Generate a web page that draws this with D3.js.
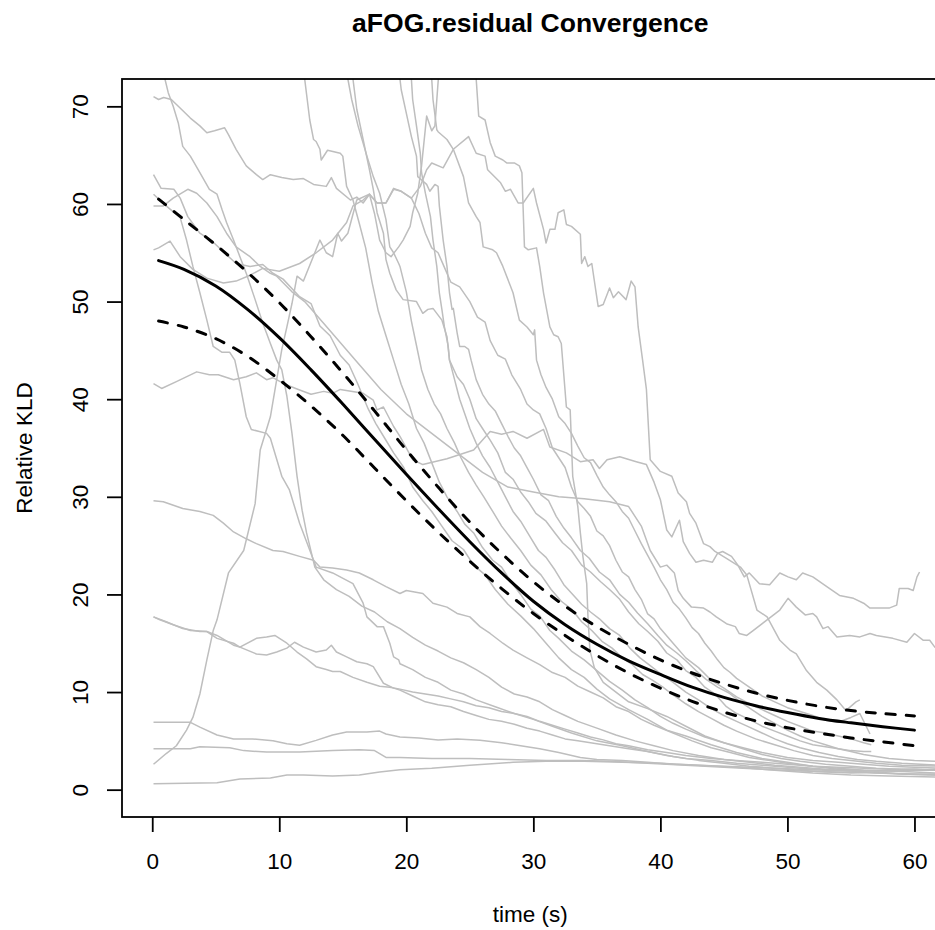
<!DOCTYPE html>
<html>
<head>
<meta charset="utf-8">
<script src="https://d3js.org/d3.v7.min.js"></script>
<style>
  body { margin: 0; background: #fff; }
  text { font-family: "Liberation Sans", Arial, Helvetica, sans-serif; }
</style>
</head>
<body>
<script>
// axis ticks
var timeTicks = [0, 10, 20, 30, 40, 50, 60];
var kldTicks = [0, 10, 20, 30, 40, 50, 60, 70];

// fitted curve and its band
var fitTime  = [0.5, 2.5, 5, 7.5, 10, 12.5, 15, 17.5, 20, 22.5, 25, 27.5, 30, 32.5, 35, 37.5, 40, 42.5, 45, 47.5, 50, 52.5, 55, 57.5, 60];
var fitMean  = [54.2, 53.3, 51.6, 49.2, 46.3, 43.0, 39.5, 35.9, 32.3, 28.8, 25.4, 22.2, 19.3, 16.9, 14.9, 13.2, 11.8, 10.5, 9.45, 8.6, 7.9, 7.3, 6.85, 6.45, 6.1];
var fitUpper = [60.5, 58.4, 55.8, 53.0, 49.9, 46.4, 42.7, 38.8, 34.8, 31.0, 27.4, 24.2, 21.3, 18.8, 16.7, 14.9, 13.3, 11.95, 10.85, 9.9, 9.15, 8.55, 8.1, 7.8, 7.55];
var fitLower = [48.0, 47.4, 46.2, 44.4, 42.0, 39.3, 36.3, 32.95, 29.6, 26.4, 23.4, 20.6, 18.05, 15.8, 13.75, 11.95, 10.4, 9.05, 7.95, 7.05, 6.35, 5.8, 5.3, 4.9, 4.5];

// individual runs, [time, KLD]
var run01 = [[0.1,71.0],[0.5,70.7],[0.9,70.9],[1.5,70.7],[2.05,70.0],[3.0,68.8],[3.75,68.0],[4.3,67.3],[4.9,67.5],[5.7,67.8],[6.0,67.1],[6.6,65.6],[7.4,63.9],[8.2,63.0],[8.7,62.5],[9.3,63.0],[10.2,62.7],[11.1,62.5],[11.9,62.6],[12.7,62.0],[13.7,61.8],[14.1,62.7],[14.5,61.6],[15.6,60.4],[16.1,60.7],[16.6,60.1],[17.1,61.0],[17.7,60.1],[18.4,60.1],[19.0,61.6],[19.6,61.3],[20.4,60.6],[21.1,61.8],[21.6,63.5],[22.0,64.2],[22.9,63.7],[23.7,65.6],[24.9,66.9],[25.5,65.2],[26.2,64.9],[26.4,63.5],[27.4,62.2],[27.8,61.3],[28.2,61.5],[28.8,60.1],[29.2,60.1],[30.0,61.6],[30.25,60.1],[30.8,57.4],[31.0,56.0],[31.3,57.4],[31.7,57.4],[31.95,59.1],[32.4,59.4],[32.6,57.9],[33.0,57.7],[33.7,56.9],[33.8,53.9],[34.05,54.6],[34.3,53.6],[34.6,53.9],[35.1,49.5],[35.5,49.7],[36.0,51.4],[36.3,50.4],[36.7,51.0],[37.3,50.2],[37.7,52.1],[38.0,51.5],[38.25,47.4],[38.6,44.0],[38.9,41.0],[39.2,33.8],[40.0,32.6],[40.9,32.1],[41.4,30.4],[42.05,29.5],[42.3,28.3],[42.8,27.3],[43.4,25.2],[43.9,24.9],[44.3,24.4],[45.2,23.7],[46.3,22.8],[46.8,22.0],[47.6,18.4],[48.4,17.7],[49.4,15.3],[50.2,14.3],[50.7,13.9],[51.5,12.2],[52.3,11.0],[53.1,10.2],[53.9,9.2],[54.6,8.1],[55.4,9.0],[55.7,9.2]];
var run02 = [[0.1,63.0],[0.7,61.6],[1.7,61.5],[2.2,60.6],[2.8,58.7],[3.75,57.0],[4.7,56.2],[5.6,55.1],[6.6,53.9],[7.7,53.6],[8.7,53.8],[9.5,52.9],[10.3,52.3],[11.6,50.5],[12.5,49.8],[13.2,47.5],[14.0,46.5],[14.8,44.5],[15.5,43.5],[16.2,41.5],[17.0,39.0],[17.6,37.5],[18.3,36.0],[19.0,34.5],[19.8,33.0],[20.5,31.0],[21.3,29.6],[22.0,28.5],[22.8,27.0],[23.6,25.5],[24.5,24.6],[25.3,23.0],[26.2,22.0],[27.0,20.5],[28.0,19.0],[29.0,17.8],[30.0,16.5],[31.0,15.0],[32.0,13.5],[33.0,12.3],[34.0,11.5],[35.0,10.3],[36.0,9.3],[37.5,8.2],[39.0,7.2],[40.5,6.1],[42.0,5.5],[44.0,4.6],[46.0,3.8],[48.0,3.2],[50.0,2.8],[52.0,2.4],[54.0,2.1],[56.0,2.0],[58.0,1.9],[60.0,2.0],[62.0,2.1]];
var run03 = [[0.1,61.0],[1.1,59.8],[2.2,58.6],[2.7,56.3],[3.2,53.6],[3.75,50.9],[4.3,48.1],[4.8,45.4],[5.5,44.8],[6.1,44.8],[6.5,44.0],[6.9,41.6],[7.4,38.2],[7.8,36.9],[9.0,36.5],[9.3,36.0],[10.2,32.1],[10.8,30.7],[11.6,27.3],[12.9,22.8],[14.2,22.2],[15.8,21.1],[16.6,19.1],[16.9,17.7],[17.7,16.7],[18.2,16.7],[18.7,15.0],[19.0,13.6],[19.4,13.3],[19.5,12.9],[20.5,12.3],[21.5,11.5],[22.5,11.0],[23.5,10.2],[24.5,9.8],[25.5,9.2],[27.0,8.5],[28.5,7.8],[30.0,7.2],[31.5,6.5],[33.0,5.8],[35.0,5.0],[37.0,4.5],[39.0,3.9],[41.0,3.4],[43.0,3.0],[45.0,2.7],[47.0,2.4],[49.0,2.2],[51.0,2.0],[53.0,1.8],[55.0,1.7],[57.0,1.8],[59.0,1.6],[62.0,1.5]];
var run04 = [[0.1,55.3],[0.5,55.5],[1.4,56.2],[2.2,54.6],[3.2,53.3],[4.3,52.4],[5.6,51.9],[6.6,52.1],[7.7,52.7],[8.7,53.4],[10.0,53.1],[11.6,53.9],[12.9,55.0],[14.2,56.3],[15.3,58.1],[15.8,59.8],[16.6,60.4],[17.1,61.0],[17.5,59.0],[17.9,56.3],[18.4,55.0],[18.8,54.6],[19.4,55.6],[19.75,56.3],[20.3,57.7],[20.5,59.1],[20.9,61.1],[21.2,63.9],[21.6,69.0],[22.0,67.5],[22.25,68.0],[22.7,76],[23.5,82],[24.5,82],[25.4,76],[25.5,72.8],[25.7,69.0],[26.2,68.6],[26.6,66.3],[27.0,64.9],[27.6,64.5],[27.9,64.2],[28.5,64.2],[28.9,63.9],[29.1,63.2],[29.3,55.6],[29.6,55.3],[30.25,55.5],[30.5,53.6],[30.8,50.9],[31.3,47.4],[31.6,46.6],[31.95,46.4],[32.2,45.7],[32.6,39.2],[32.9,38.9],[33.1,32.1],[33.5,29.0],[33.7,26.3],[33.9,23.9],[34.2,21.1],[34.3,17.7],[34.45,14.3],[34.8,12.5],[35.5,11.0],[36.5,10.0],[37.5,9.0],[39.0,8.3],[40.5,7.5],[42.0,6.5],[43.5,5.5],[45.0,4.8],[46.5,4.3],[48.0,3.8],[50.0,3.3],[52.0,3.0],[54.0,2.8],[56.0,2.6],[58.0,2.4],[60.0,2.3],[62.0,2.2]];
var run05 = [[0.1,2.6],[1.1,3.7],[1.9,4.5],[2.7,6.1],[3.2,7.4],[3.75,9.8],[4.3,13.3],[4.8,16.3],[5.1,17.4],[6.0,22.2],[7.2,24.5],[8.1,29.3],[8.5,34.8],[9.3,38.2],[10.2,45.1],[10.6,47.4],[11.0,49.8],[11.4,52.6],[11.9,52.1],[13.2,56.3],[13.7,55.0],[14.2,54.6],[14.6,57.0],[14.9,56.2],[15.4,57.0],[16.1,60.4],[17.1,61.0],[17.7,60.1],[18.4,60.1],[19.0,61.5],[19.6,61.3],[20.4,60.6],[21.0,59.0],[21.5,57.0],[22.0,55.5],[22.5,55.0],[23.0,53.5],[23.5,52.0],[24.2,51.5],[25.0,50.0],[25.6,48.4],[26.2,47.9],[26.6,46.0],[27.2,44.5],[27.8,44.1],[28.3,42.5],[29.0,41.0],[29.5,39.5],[30.0,38.9],[30.5,38.5],[31.0,37.0],[31.5,35.0],[32.0,34.0],[32.5,33.0],[33.0,31.0],[33.5,29.5],[34.0,28.8],[34.5,28.0],[35.0,26.5],[35.5,26.0],[36.0,25.0],[36.5,23.5],[37.0,22.3],[37.5,21.8],[38.0,20.5],[38.5,19.5],[39.0,18.0],[39.5,17.5],[40.0,16.5],[41.0,15.0],[42.0,13.5],[43.0,12.5],[44.0,11.2],[45.0,10.4],[46.0,9.5],[47.0,8.8],[48.0,8.2],[49.0,7.6],[50.0,7.0],[51.0,6.5],[52.0,6.0],[53.0,5.8],[54.0,5.5],[55.0,5.2],[56.0,4.8],[56.6,4.6]];
var run06 = [[0.9,76],[1.0,72.8],[1.26,71.4],[1.65,70.0],[2.05,68.3],[2.4,65.9],[3.0,64.9],[3.75,63.2],[4.5,61.5],[5.1,61.0],[5.5,59.4],[5.85,58.1],[6.4,56.3],[6.9,54.6],[7.4,52.9],[8.1,50.2],[8.7,47.8],[9.3,45.7],[9.8,44.0],[10.2,43.0],[10.6,40.3],[11.0,36.5],[11.4,32.1],[11.8,28.6],[12.15,26.3],[12.8,22.8],[13.5,21.5],[14.5,20.5],[15.5,19.8],[16.5,18.8],[17.5,18.2],[18.5,17.2],[19.5,16.5],[20.5,15.6],[21.5,14.8],[22.5,14.2],[23.5,13.5],[24.5,13.0],[25.5,12.3],[26.5,11.5],[27.5,10.5],[28.5,9.8],[29.5,9.5],[30.5,9.0],[31.5,8.2],[32.5,7.6],[33.5,7.0],[35.0,6.3],[36.5,5.6],[38.0,5.0],[39.5,4.5],[41.0,4.0],[43.0,3.5],[45.0,3.1],[47.0,2.8],[49.0,2.5],[51.0,2.3],[53.0,2.1],[55.0,1.9],[57.0,1.7],[59.0,1.6],[62.0,1.5]];
var run07 = [[0.1,41.6],[0.74,41.1],[1.9,41.8],[3.5,42.8],[4.5,42.5],[5.2,42.5],[6.4,42.0],[7.4,42.3],[8.2,42.7],[9.0,42.0],[9.5,42.2],[10.5,41.5],[11.5,41.0],[12.5,40.5],[13.5,40.8],[14.2,40.6],[14.8,41.0],[16.6,40.6],[17.4,39.9],[17.7,38.9],[18.2,39.2],[19.0,37.2],[19.5,36.2],[20.5,33.8],[21.3,33.3],[23.2,33.9],[25.3,34.8],[26.6,36.7],[27.5,36.4],[28.4,36.7],[29.5,36.0],[30.8,36.9],[31.3,35.1],[32.6,34.5],[33.7,33.6],[34.7,33.8],[35.2,32.9],[35.8,33.8],[36.8,34.1],[38.1,33.6],[38.9,33.3],[39.5,31.5],[40.0,29.7],[40.5,26.6],[40.9,25.9],[41.5,27.6],[41.8,25.4],[42.3,24.2],[42.8,23.3],[43.4,23.5],[44.1,23.3],[44.5,24.2],[44.9,24.4],[45.6,23.9],[46.1,23.0],[46.6,21.8],[47.0,22.2],[47.8,21.1],[48.6,21.0],[49.4,22.2],[50.05,21.8],[50.7,21.5],[51.2,22.2],[52.0,21.8],[53.1,20.8],[54.1,19.9],[55.2,19.6],[56.0,19.1],[56.5,18.6],[57.3,18.6],[58.0,18.6],[58.6,18.9],[58.8,20.6],[59.5,20.6],[59.9,20.4],[60.2,21.8],[60.4,22.3]];
var run08 = [[0.1,29.6],[0.87,29.5],[2.4,28.8],[3.75,28.5],[4.8,28.1],[5.6,27.3],[6.4,26.4],[7.4,25.7],[8.2,25.2],[9.5,24.5],[10.3,24.4],[11.6,23.9],[12.7,23.5],[13.2,22.8],[14.2,22.7],[15.3,22.5],[16.3,22.2],[17.4,21.5],[18.4,20.8],[19.5,20.1],[20.0,20.4],[21.3,20.1],[22.1,19.1],[23.2,18.7],[24.0,18.05],[25.0,17.7],[25.8,16.7],[26.6,16.0],[27.6,15.0],[28.4,14.3],[29.5,13.5],[30.5,12.8],[31.5,12.0],[32.5,11.5],[33.5,10.6],[34.5,10.0],[35.5,9.4],[36.5,8.5],[37.5,8.0],[38.5,7.2],[39.5,6.6],[41.0,5.8],[42.5,5.0],[44.0,4.3],[45.5,3.8],[47.0,3.3],[48.5,3.0],[50.0,2.7],[52.0,2.4],[54.0,2.2],[56.0,2.0],[58.0,1.9],[60.0,1.8],[62.0,1.7]];
var run09 = [[0.1,17.7],[1.1,17.2],[2.4,16.5],[3.75,16.2],[4.3,16.2],[5.1,15.8],[6.4,14.8],[6.9,14.6],[8.2,15.5],[9.0,15.65],[9.65,15.8],[10.6,15.0],[11.4,14.1],[12.15,13.4],[12.9,12.6],[13.7,12.3],[14.2,12.1],[14.8,12.1],[15.8,11.5],[16.9,11.0],[17.9,10.6],[18.7,10.5],[19.5,10.3],[20.5,10.0],[21.5,9.8],[22.5,9.6],[23.5,9.3],[24.5,9.0],[25.5,8.6],[26.5,8.4],[27.5,8.0],[28.5,7.8],[29.5,7.5],[30.5,7.0],[31.5,6.6],[32.5,6.2],[33.5,5.8],[34.5,5.4],[35.5,5.1],[36.5,4.7],[37.5,4.5],[39.0,4.1],[40.5,3.8],[42.0,3.5],[44.0,3.2],[46.0,3.0],[48.0,2.8],[50.0,2.6],[52.0,2.4],[54.0,2.3],[56.0,2.2],[58.0,2.1],[60.0,2.1],[62.0,2.0]];
var run10 = [[0.1,17.7],[0.6,17.4],[1.65,16.9],[3.0,16.3],[4.3,16.2],[5.1,15.5],[6.4,15.0],[6.9,14.6],[8.2,13.9],[9.0,13.8],[9.8,14.1],[10.6,14.5],[11.2,15.1],[11.9,14.6],[12.9,14.1],[13.7,14.3],[14.1,14.8],[14.5,14.1],[15.3,13.6],[16.1,13.1],[16.9,12.9],[17.4,12.6],[18.2,10.9],[19.0,10.4],[19.5,10.2],[20.5,9.6],[21.5,9.0],[22.5,8.7],[23.5,8.5],[24.5,8.0],[25.5,7.6],[26.5,7.2],[27.5,7.0],[28.5,6.7],[29.5,6.3],[30.5,6.0],[31.5,5.6],[32.5,5.2],[33.5,5.0],[34.5,4.8],[36.0,4.5],[37.5,4.2],[39.0,3.9],[40.5,3.5],[42.0,3.2],[44.0,3.0],[46.0,2.7],[48.0,2.5],[50.0,2.3],[52.0,2.1],[54.0,2.0],[56.0,1.9],[58.0,2.0],[60.0,2.1],[62.0,2.0]];
var run11 = [[0.1,6.9],[1.65,6.9],[3.0,6.9],[3.75,6.4],[5.1,5.6],[6.4,5.2],[7.9,5.2],[9.5,5.0],[10.6,4.7],[11.6,4.55],[12.9,5.05],[14.2,5.6],[15.3,5.9],[16.9,5.9],[17.9,6.0],[18.4,5.7],[19.5,5.4],[21.0,5.3],[22.5,5.1],[24.0,5.2],[25.8,5.05],[27.5,4.8],[29.0,4.5],[30.5,4.2],[32.0,3.8],[33.7,3.3],[35.0,3.1],[37.0,3.0],[39.0,2.8],[41.0,2.6],[43.0,2.5],[45.0,2.4],[47.0,2.3],[49.0,2.2],[51.0,2.1],[53.0,2.0],[55.0,1.9],[57.0,1.9],[59.0,2.0],[62.0,2.0]];
var run12 = [[0.1,4.2],[1.65,4.2],[3.0,4.2],[3.75,4.4],[6.1,4.3],[7.2,4.0],[9.0,3.85],[11.6,3.85],[14.2,4.0],[16.3,4.1],[17.5,4.0],[18.4,3.3],[19.5,3.3],[22.0,3.2],[25.0,3.2],[28.0,3.1],[31.0,3.0],[33.7,3.0],[36.0,2.9],[39.0,2.7],[42.0,2.5],[45.0,2.3],[48.0,2.1],[51.0,1.9],[54.0,1.8],[57.0,1.7],[60.0,1.6],[62.0,1.6]];
var run13 = [[0.1,0.6],[5.1,0.7],[6.9,1.1],[9.3,1.2],[10.6,1.5],[11.9,1.5],[14.2,1.4],[16.3,1.5],[17.9,1.8],[19.5,2.05],[22.0,2.2],[25.0,2.5],[28.4,2.8],[31.0,2.9],[34.0,2.9],[37.0,2.8],[40.0,2.7],[43.0,2.5],[46.0,2.3],[49.0,2.0],[52.0,1.7],[55.0,1.5],[58.0,1.4],[62.0,1.3]];
var run14 = [[11.9,76],[12.0,72.8],[12.4,68.6],[12.7,66.6],[12.9,66.4],[13.2,65.6],[13.3,64.5],[13.8,65.5],[14.8,65.2],[15.0,64.9],[15.3,61.8],[15.8,60.4],[16.3,58.0],[16.8,55.5],[17.3,52.0],[17.8,49.0],[18.4,46.5],[19.0,44.0],[19.6,41.5],[20.2,39.5],[20.8,37.0],[21.4,35.5],[22.0,33.5],[22.6,31.5],[23.2,30.0],[24.0,28.5],[24.6,27.2],[25.3,26.3],[26.0,24.8],[26.8,23.5],[27.5,22.8],[28.3,21.2],[29.0,20.0],[29.8,18.5],[30.5,17.8],[31.3,16.3],[32.0,15.5],[33.0,14.2],[34.0,13.3],[35.0,12.2],[36.0,11.1],[37.0,10.2],[38.0,9.2],[39.0,8.4],[40.0,7.5],[41.0,6.8],[42.0,6.2],[43.5,5.4],[45.0,4.8],[46.5,4.2],[48.0,3.6],[49.5,3.2],[51.0,2.9],[53.0,2.6],[55.0,2.4],[57.0,2.2],[59.0,2.1],[62.0,2.0]];
var run15 = [[15.7,76],[15.8,72.8],[16.1,69.7],[16.6,66.6],[17.1,63.5],[17.4,61.5],[17.7,59.1],[18.2,57.0],[18.4,54.3],[18.7,52.9],[19.2,51.2],[19.75,50.2],[20.8,50.0],[21.3,48.8],[21.7,49.2],[22.1,49.3],[22.8,48.1],[23.2,46.4],[23.4,44.0],[24.0,42.3],[24.5,41.5],[25.0,40.0],[25.5,38.0],[26.0,37.0],[26.6,35.8],[27.2,34.5],[27.8,32.5],[28.4,31.8],[29.0,30.5],[29.6,29.5],[30.2,28.3],[31.0,27.5],[31.7,26.3],[32.3,25.3],[33.0,24.5],[33.8,23.0],[34.5,22.3],[35.3,21.3],[36.0,20.5],[36.8,19.5],[37.5,18.2],[38.3,17.0],[39.0,16.2],[39.8,15.2],[40.5,14.0],[41.3,13.3],[42.0,12.2],[42.8,11.5],[43.5,10.5],[44.3,9.8],[45.2,8.5],[46.0,7.8],[47.0,7.2],[48.0,6.5],[49.0,6.0],[50.0,5.5],[51.0,5.0],[52.0,4.6],[53.0,4.4],[54.0,4.2],[55.0,4.0],[56.0,3.9],[56.6,3.9]];
var run16 = [[15.3,76],[15.4,72.8],[15.7,70.7],[16.2,68.0],[16.9,64.9],[17.4,62.8],[17.9,61.1],[18.4,58.4],[18.7,55.6],[19.0,55.0],[19.4,53.9],[19.5,53.6],[20.0,51.0],[20.4,48.0],[20.8,45.5],[21.2,43.0],[21.7,41.0],[22.2,39.5],[22.7,38.5],[23.2,37.0],[23.8,35.5],[24.3,34.0],[24.9,32.5],[25.5,31.2],[26.1,30.0],[26.8,28.5],[27.5,27.0],[28.2,25.8],[29.0,24.5],[29.8,23.0],[30.6,22.0],[31.4,20.5],[32.2,19.3],[33.0,18.5],[33.8,17.2],[34.6,16.3],[35.4,15.2],[36.2,14.5],[37.0,13.5],[37.8,12.8],[38.6,11.8],[39.4,11.2],[40.2,10.5],[41.0,9.7],[42.0,8.8],[43.0,8.0],[44.0,7.3],[45.0,6.6],[46.0,6.0],[47.5,5.2],[49.0,4.6],[50.5,4.0],[52.0,3.5],[53.5,3.2],[55.0,3.0],[57.0,2.7],[59.0,2.5],[62.0,2.4]];
var run17 = [[19.4,76],[19.5,72.8],[19.6,71.7],[20.0,69.3],[20.4,66.9],[20.8,64.9],[20.9,62.8],[21.6,62.0],[21.85,61.3],[22.25,62.0],[22.5,61.8],[22.6,59.8],[22.9,56.3],[23.2,53.6],[23.4,50.9],[23.6,49.2],[23.7,49.3],[24.0,46.8],[24.2,45.4],[24.6,45.4],[24.9,45.1],[25.1,44.0],[25.5,42.0],[26.0,40.5],[26.5,39.5],[27.0,38.8],[27.5,37.5],[28.0,36.2],[28.5,35.0],[29.0,34.2],[29.5,33.0],[30.0,31.8],[30.6,30.2],[31.2,29.6],[31.8,28.0],[32.4,26.8],[33.0,25.8],[33.7,24.5],[34.4,23.7],[35.2,22.3],[36.0,21.5],[36.8,20.0],[37.5,19.2],[38.2,18.1],[39.0,17.0],[39.8,15.8],[40.5,14.8],[41.3,14.0],[42.0,13.2],[42.8,12.2],[43.6,11.3],[44.5,10.5],[45.4,9.9],[46.3,9.0],[47.2,8.2],[48.0,7.5],[49.0,6.8],[50.0,6.1],[51.0,5.5],[52.0,5.0],[53.0,4.6],[54.0,4.2],[55.0,3.9],[56.0,3.6],[58.0,3.2],[60.0,3.0],[62.0,2.9]];
var run18 = [[20.3,76],[20.4,72.8],[20.5,70.7],[20.8,68.0],[21.1,65.2],[21.2,63.2],[21.5,61.1],[21.9,58.7],[22.1,56.3],[22.4,53.6],[22.6,50.9],[22.8,49.2],[23.0,47.4],[23.3,45.4],[23.4,44.0],[23.8,42.0],[24.2,40.0],[24.6,38.5],[25.0,37.0],[25.5,35.5],[26.0,34.2],[26.6,33.0],[27.2,31.5],[27.8,30.0],[28.4,28.5],[29.0,27.5],[29.7,26.0],[30.4,24.5],[31.0,23.8],[31.7,22.5],[32.4,21.0],[33.1,20.0],[33.8,19.0],[34.5,18.2],[35.2,17.5],[36.0,16.5],[36.8,15.8],[37.6,14.5],[38.4,13.5],[39.2,12.7],[40.0,11.9],[41.0,11.0],[42.0,10.0],[43.0,9.2],[44.0,8.3],[45.0,7.6],[46.0,7.0],[47.0,6.4],[48.0,5.8],[49.0,5.2],[50.0,4.7],[51.0,4.3],[52.5,3.8],[54.0,3.4],[55.5,3.1],[57.0,2.9],[59.0,2.7],[62.0,2.5]];
var run19 = [[21.9,76],[22.0,72.8],[22.1,70.7],[22.4,67.6],[22.5,67.4],[23.2,66.6],[23.7,65.6],[24.5,62.8],[24.9,60.1],[25.5,58.7],[25.8,58.1],[26.05,55.6],[26.8,55.3],[27.1,55.0],[27.6,53.6],[28.4,50.9],[28.9,48.1],[29.5,47.4],[30.0,46.6],[30.1,47.1],[30.25,44.0],[30.6,42.5],[31.0,41.2],[31.5,40.0],[32.0,38.2],[32.5,37.5],[33.0,36.5],[33.5,35.2],[34.0,34.0],[34.5,33.5],[35.0,32.2],[35.5,31.0],[36.0,30.2],[36.5,29.5],[37.0,28.5],[37.5,27.8],[38.0,26.5],[38.5,25.2],[39.0,24.0],[39.5,22.8],[40.0,21.5],[40.5,20.5],[41.0,19.2],[41.5,18.5],[42.0,17.6],[42.5,16.6],[43.0,16.0],[43.5,15.0],[44.0,14.2],[44.5,13.3],[45.0,12.5],[45.5,12.0],[46.0,11.4],[47.0,10.5],[48.0,9.6],[49.0,9.0],[50.0,8.4],[51.0,8.0],[52.0,7.6],[53.0,7.1],[54.0,6.9],[55.0,7.4],[55.7,7.8],[56.5,5.7]];
var run20 = [[0.1,59.8],[0.87,59.8],[1.65,60.6],[2.8,61.5],[3.5,61.1],[4.3,60.1],[5.1,58.7],[5.85,57.0],[6.6,55.6],[7.7,54.6],[8.5,53.6],[9.3,52.9],[9.8,52.6],[11.0,51.0],[12.0,50.0],[14.0,47.0],[16.0,44.0],[18.0,41.0],[20.0,38.5],[22.0,36.5],[24.0,34.5],[26.0,32.5],[28.0,31.0],[30.0,30.5],[32.0,30.0],[34.0,29.8],[36.0,29.5],[37.5,29.0],[38.5,27.0],[39.2,24.5],[40.0,22.8],[40.5,23.0],[41.1,22.2],[41.4,20.4],[41.8,19.6],[42.45,18.7],[43.4,18.6],[43.9,18.2],[44.4,17.7],[45.2,17.0],[45.9,16.7],[46.2,16.0],[46.8,15.8],[47.3,16.3],[48.4,17.4],[49.4,18.4],[50.05,19.6],[50.7,18.7],[51.4,17.9],[52.0,18.05],[52.3,17.7],[52.8,16.5],[53.2,16.7],[53.9,15.65],[54.9,15.8],[55.7,15.65],[56.5,16.0],[57.0,15.8],[58.3,15.5],[59.4,15.1],[60.0,16.0],[60.7,15.3],[61.2,15.3],[61.6,14.6],[62.5,14.0]];

function init(){
    var w = 935;
    var h = 930;
    // plot box, same spot as the R figure
    var left = 122, right = 938.6, top = 79, bottom = 817;

    var xScale = d3.scaleLinear().domain([-2.38, 61.9]).range([left, right]);
    var yScale = d3.scaleLinear().domain([-2.8, 72.8]).range([bottom, top]);

    var svg = d3.select("body")
                .append("svg")
                .attr("width", w)
                .attr("height", h);

    svg.append("clipPath")
        .attr("id", "plotArea")
        .append("rect")
        .attr("x", left)
        .attr("y", top)
        .attr("width", right - left)
        .attr("height", bottom - top);

    var runLine = d3.line()
        .x(function(d){ return xScale(d[0]); })
        .y(function(d){ return yScale(d[1]); });

    var runs = [run01, run02, run03, run04, run05, run06, run07, run08, run09, run10,
                run11, run12, run13, run14, run15, run16, run17, run18, run19, run20];

    var plot = svg.append("g").attr("clip-path", "url(#plotArea)");

    // grey runs
    plot.selectAll("path.run")
        .data(runs)
        .enter()
        .append("path")
        .attr("class", "run")
        .attr("d", runLine)
        .attr("fill", "none")
        .attr("stroke", "#bebebe")
        .attr("stroke-width", 1.5)
        .attr("stroke-linejoin", "round");

    // fitted curve + band
    var fitLine = d3.line()
        .curve(d3.curveCatmullRom.alpha(0.5))
        .x(function(d, i){ return xScale(fitTime[i]); })
        .y(function(d){ return yScale(d); });

    [fitUpper, fitLower].forEach(function(band){
        plot.append("path")
            .attr("d", fitLine(band))
            .attr("fill", "none")
            .attr("stroke", "#000")
            .attr("stroke-width", 3)
            .attr("stroke-linecap", "round")
            .attr("stroke-dasharray", "9,11");
    });

    plot.append("path")
        .attr("d", fitLine(fitMean))
        .attr("fill", "none")
        .attr("stroke", "#000")
        .attr("stroke-width", 3)
        .attr("stroke-linecap", "round");

    // x axis
    var xAxis = d3.axisBottom(xScale)
        .tickValues(timeTicks)
        .tickSize(15)
        .tickPadding(21);

    var gx = svg.append("g")
        .attr("transform", "translate(0," + bottom + ")")
        .call(xAxis);
    gx.select(".domain").remove();
    gx.selectAll("line").attr("stroke", "#000").attr("stroke-width", 1.8);
    gx.selectAll("text")
        .attr("font-size", "22.5px")
        .attr("fill", "#000")
        .style("font-family", "'Liberation Sans', Arial, sans-serif");

    // y axis, labels turned like R does
    var yAxis = d3.axisLeft(yScale)
        .tickValues(kldTicks)
        .tickSize(15);

    var gy = svg.append("g")
        .attr("transform", "translate(" + left + ",0)")
        .call(yAxis);
    gy.select(".domain").remove();
    gy.selectAll("line").attr("stroke", "#000").attr("stroke-width", 1.8);
    gy.selectAll("text")
        .attr("x", null)
        .attr("dy", null)
        .attr("transform", "translate(-34,0) rotate(-90)")
        .attr("text-anchor", "middle")
        .attr("font-size", "22.5px")
        .attr("fill", "#000")
        .style("font-family", "'Liberation Sans', Arial, sans-serif");

    // box round the plot
    svg.append("rect")
        .attr("x", left)
        .attr("y", top)
        .attr("width", right - left)
        .attr("height", bottom - top)
        .attr("fill", "none")
        .attr("stroke", "#000")
        .attr("stroke-width", 1.8);

    // titles
    svg.append("text")
        .attr("x", (left + right) / 2)
        .attr("y", 32)
        .attr("text-anchor", "middle")
        .attr("font-size", "26.5px")
        .attr("font-weight", "bold")
        .text("aFOG.residual Convergence");

    svg.append("text")
        .attr("x", (left + right) / 2)
        .attr("y", 922)
        .attr("text-anchor", "middle")
        .attr("font-size", "22.5px")
        .text("time (s)");

    svg.append("text")
        .attr("transform", "translate(32," + ((top + bottom) / 2) + ") rotate(-90)")
        .attr("text-anchor", "middle")
        .attr("font-size", "22.5px")
        .text("Relative KLD");
}
window.onload = init;
</script>
</body>
</html>
